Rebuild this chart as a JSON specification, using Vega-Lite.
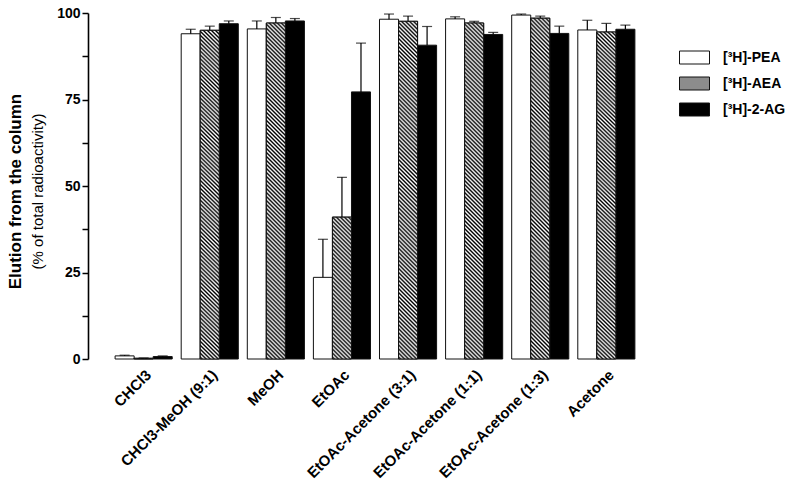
{
  "$schema": "https://vega.github.io/schema/vega-lite/v6.json",
  "width": 574,
  "height": 346,
  "autosize": {"type": "none"},
  "padding": {"left": 88, "top": 13, "right": 138, "bottom": 134},
  "background": "white",
  "config": {
    "view": {"stroke": null},
    "font": "Liberation Sans",
    "axis": {"labelFont": "Liberation Sans", "titleFont": "Liberation Sans", "labelColor": "black", "titleColor": "black"},
    "legend": {"labelFont": "Liberation Sans"}
  },
  "data": {
    "values": [
      {"solvent": "CHCl3", "compound": "[³H]-PEA", "mean": 0.9, "upper": 1.1},
      {"solvent": "CHCl3", "compound": "[³H]-AEA", "mean": 0.2, "upper": 0.3},
      {"solvent": "CHCl3", "compound": "[³H]-2-AG", "mean": 0.7, "upper": 0.9},
      {"solvent": "CHCl3-MeOH (9:1)", "compound": "[³H]-PEA", "mean": 94.0, "upper": 95.3},
      {"solvent": "CHCl3-MeOH (9:1)", "compound": "[³H]-AEA", "mean": 95.0, "upper": 96.2},
      {"solvent": "CHCl3-MeOH (9:1)", "compound": "[³H]-2-AG", "mean": 96.9, "upper": 97.7},
      {"solvent": "MeOH", "compound": "[³H]-PEA", "mean": 95.4, "upper": 97.7},
      {"solvent": "MeOH", "compound": "[³H]-AEA", "mean": 97.1, "upper": 98.7},
      {"solvent": "MeOH", "compound": "[³H]-2-AG", "mean": 97.7, "upper": 98.4},
      {"solvent": "EtOAc", "compound": "[³H]-PEA", "mean": 23.6, "upper": 34.6},
      {"solvent": "EtOAc", "compound": "[³H]-AEA", "mean": 41.0, "upper": 52.5},
      {"solvent": "EtOAc", "compound": "[³H]-2-AG", "mean": 77.2, "upper": 91.3},
      {"solvent": "EtOAc-Acetone (3:1)", "compound": "[³H]-PEA", "mean": 98.2, "upper": 99.7},
      {"solvent": "EtOAc-Acetone (3:1)", "compound": "[³H]-AEA", "mean": 97.6, "upper": 99.1},
      {"solvent": "EtOAc-Acetone (3:1)", "compound": "[³H]-2-AG", "mean": 90.7, "upper": 96.1},
      {"solvent": "EtOAc-Acetone (1:1)", "compound": "[³H]-PEA", "mean": 98.3, "upper": 98.9},
      {"solvent": "EtOAc-Acetone (1:1)", "compound": "[³H]-AEA", "mean": 97.1, "upper": 97.6},
      {"solvent": "EtOAc-Acetone (1:1)", "compound": "[³H]-2-AG", "mean": 93.8, "upper": 94.4},
      {"solvent": "EtOAc-Acetone (1:3)", "compound": "[³H]-PEA", "mean": 99.4, "upper": 99.7},
      {"solvent": "EtOAc-Acetone (1:3)", "compound": "[³H]-AEA", "mean": 98.5, "upper": 99.1},
      {"solvent": "EtOAc-Acetone (1:3)", "compound": "[³H]-2-AG", "mean": 94.1, "upper": 96.2},
      {"solvent": "Acetone", "compound": "[³H]-PEA", "mean": 95.1, "upper": 97.9},
      {"solvent": "Acetone", "compound": "[³H]-AEA", "mean": 94.5, "upper": 97.0},
      {"solvent": "Acetone", "compound": "[³H]-2-AG", "mean": 95.3, "upper": 96.5}
    ]
  },
  "encoding": {
    "x": {
      "field": "solvent",
      "type": "nominal",
      "scale": {
        "domain": ["CHCl3", "CHCl3-MeOH (9:1)", "MeOH", "EtOAc", "EtOAc-Acetone (3:1)", "EtOAc-Acetone (1:1)", "EtOAc-Acetone (1:3)", "Acetone"],
        "paddingInner": 0.136,
        "paddingOuter": 0.41
      },
      "axis": {
        "title": null,
        "labelAngle": -45,
        "labelAlign": "right",
        "labelBaseline": "top",
        "labelPadding": 8,
        "labelFontSize": 15,
        "labelFontWeight": "bold",
        "labelLimit": 300,
        "ticks": false,
        "domain": false,
        "grid": false
      }
    },
    "xOffset": {
      "field": "compound",
      "type": "nominal",
      "scale": {"domain": ["[³H]-PEA", "[³H]-AEA", "[³H]-2-AG"], "paddingInner": 0, "paddingOuter": 0}
    }
  },
  "layer": [
    {
      "mark": {"type": "bar", "strokeWidth": 1},
      "encoding": {
        "y": {
          "field": "mean",
          "type": "quantitative",
          "scale": {"domain": [0, 100], "nice": false},
          "axis": {
            "values": [0, 12.5, 25, 37.5, 50, 62.5, 75, 87.5, 100],
            "labelExpr": "datum.value % 25 === 0 ? datum.label : ''",
            "grid": false,
            "domainColor": "black",
            "domainWidth": 1.6,
            "tickColor": "black",
            "tickWidth": 1.5,
            "tickSize": 6,
            "labelFontSize": 14,
            "labelFontWeight": "bold",
            "labelPadding": 2,
            "title": "(% of total radioactivity)",
            "titleFontSize": 15,
            "titleFontWeight": "normal",
            "titleAngle": -90,
            "titleX": -51,
            "titleY": 178,
            "titleAlign": "center",
            "titleBaseline": "middle"
          }
        },
        "stroke": {"value": "#111111"},
        "fill": {
          "field": "compound",
          "type": "nominal",
          "scale": {"domain": ["[³H]-PEA", "[³H]-AEA", "[³H]-2-AG"], "range": ["#ffffff", "#8c8c8c", "#000000"]},
          "legend": {
            "orient": "none",
            "legendX": 599,
            "legendY": 37,
            "title": null,
            "symbolType": "M-2.1429,-0.9286H2.1429V0.9286H-2.1429Z",
            "symbolSize": 196,
            "symbolStrokeColor": "#111111",
            "symbolStrokeWidth": 1,
            "symbolOpacity": 1,
            "labelFontSize": 14,
            "labelFontWeight": "bold",
            "labelColor": "black",
            "labelOffset": 21,
            "rowPadding": 7
          }
        }
      }
    },
    {
      "transform": [{"filter": "datum.compound === '[³H]-AEA'"}],
      "mark": {"type": "bar", "strokeWidth": 1, "stroke": "#111111"},
      "encoding": {
        "y": {
          "field": "mean",
          "type": "quantitative",
          "scale": {"domain": [0, 100], "nice": false},
          "axis": null
        },
        "fill": {
          "condition": {
            "test": "datum.solvent === 'EtOAc'",
            "value": {
              "gradient": "linear", "x1": 0, "y1": 1, "x2": 0.1481, "y2": -0.107,
              "stops": [
                {"offset": 0, "color": "#fff"}, {"offset": 0.0125, "color": "#000"}, {"offset": 0.025, "color": "#fff"}, {"offset": 0.0375, "color": "#000"},
                {"offset": 0.05, "color": "#fff"}, {"offset": 0.0625, "color": "#000"}, {"offset": 0.075, "color": "#fff"}, {"offset": 0.0875, "color": "#000"},
                {"offset": 0.1, "color": "#fff"}, {"offset": 0.1125, "color": "#000"}, {"offset": 0.125, "color": "#fff"}, {"offset": 0.1375, "color": "#000"},
                {"offset": 0.15, "color": "#fff"}, {"offset": 0.1625, "color": "#000"}, {"offset": 0.175, "color": "#fff"}, {"offset": 0.1875, "color": "#000"},
                {"offset": 0.2, "color": "#fff"}, {"offset": 0.2125, "color": "#000"}, {"offset": 0.225, "color": "#fff"}, {"offset": 0.2375, "color": "#000"},
                {"offset": 0.25, "color": "#fff"}, {"offset": 0.2625, "color": "#000"}, {"offset": 0.275, "color": "#fff"}, {"offset": 0.2875, "color": "#000"},
                {"offset": 0.3, "color": "#fff"}, {"offset": 0.3125, "color": "#000"}, {"offset": 0.325, "color": "#fff"}, {"offset": 0.3375, "color": "#000"},
                {"offset": 0.35, "color": "#fff"}, {"offset": 0.3625, "color": "#000"}, {"offset": 0.375, "color": "#fff"}, {"offset": 0.3875, "color": "#000"},
                {"offset": 0.4, "color": "#fff"}, {"offset": 0.4125, "color": "#000"}, {"offset": 0.425, "color": "#fff"}, {"offset": 0.4375, "color": "#000"},
                {"offset": 0.45, "color": "#fff"}, {"offset": 0.4625, "color": "#000"}, {"offset": 0.475, "color": "#fff"}, {"offset": 0.4875, "color": "#000"},
                {"offset": 0.5, "color": "#fff"}, {"offset": 0.5125, "color": "#000"}, {"offset": 0.525, "color": "#fff"}, {"offset": 0.5375, "color": "#000"},
                {"offset": 0.55, "color": "#fff"}, {"offset": 0.5625, "color": "#000"}, {"offset": 0.575, "color": "#fff"}, {"offset": 0.5875, "color": "#000"},
                {"offset": 0.6, "color": "#fff"}, {"offset": 0.6125, "color": "#000"}, {"offset": 0.625, "color": "#fff"}, {"offset": 0.6375, "color": "#000"},
                {"offset": 0.65, "color": "#fff"}, {"offset": 0.6625, "color": "#000"}, {"offset": 0.675, "color": "#fff"}, {"offset": 0.6875, "color": "#000"},
                {"offset": 0.7, "color": "#fff"}, {"offset": 0.7125, "color": "#000"}, {"offset": 0.725, "color": "#fff"}, {"offset": 0.7375, "color": "#000"},
                {"offset": 0.75, "color": "#fff"}, {"offset": 0.7625, "color": "#000"}, {"offset": 0.775, "color": "#fff"}, {"offset": 0.7875, "color": "#000"},
                {"offset": 0.8, "color": "#fff"}, {"offset": 0.8125, "color": "#000"}, {"offset": 0.825, "color": "#fff"}, {"offset": 0.8375, "color": "#000"},
                {"offset": 0.85, "color": "#fff"}, {"offset": 0.8625, "color": "#000"}, {"offset": 0.875, "color": "#fff"}, {"offset": 0.8875, "color": "#000"},
                {"offset": 0.9, "color": "#fff"}, {"offset": 0.9125, "color": "#000"}, {"offset": 0.925, "color": "#fff"}, {"offset": 0.9375, "color": "#000"},
                {"offset": 0.95, "color": "#fff"}, {"offset": 0.9625, "color": "#000"}, {"offset": 0.975, "color": "#fff"}, {"offset": 0.9875, "color": "#000"},
                {"offset": 1, "color": "#fff"}
              ]
            }
          },
          "value": {
            "gradient": "linear", "x1": 0, "y1": 1, "x2": 0.0675, "y2": -0.1902,
            "stops": [
              {"offset": 0, "color": "#fff"}, {"offset": 0.005, "color": "#000"}, {"offset": 0.01, "color": "#fff"}, {"offset": 0.015, "color": "#000"}, {"offset": 0.02, "color": "#fff"}, {"offset": 0.025, "color": "#000"}, {"offset": 0.03, "color": "#fff"}, {"offset": 0.035, "color": "#000"}, {"offset": 0.04, "color": "#fff"}, {"offset": 0.045, "color": "#000"},
              {"offset": 0.05, "color": "#fff"}, {"offset": 0.055, "color": "#000"}, {"offset": 0.06, "color": "#fff"}, {"offset": 0.065, "color": "#000"}, {"offset": 0.07, "color": "#fff"}, {"offset": 0.075, "color": "#000"}, {"offset": 0.08, "color": "#fff"}, {"offset": 0.085, "color": "#000"}, {"offset": 0.09, "color": "#fff"}, {"offset": 0.095, "color": "#000"},
              {"offset": 0.1, "color": "#fff"}, {"offset": 0.105, "color": "#000"}, {"offset": 0.11, "color": "#fff"}, {"offset": 0.115, "color": "#000"}, {"offset": 0.12, "color": "#fff"}, {"offset": 0.125, "color": "#000"}, {"offset": 0.13, "color": "#fff"}, {"offset": 0.135, "color": "#000"}, {"offset": 0.14, "color": "#fff"}, {"offset": 0.145, "color": "#000"},
              {"offset": 0.15, "color": "#fff"}, {"offset": 0.155, "color": "#000"}, {"offset": 0.16, "color": "#fff"}, {"offset": 0.165, "color": "#000"}, {"offset": 0.17, "color": "#fff"}, {"offset": 0.175, "color": "#000"}, {"offset": 0.18, "color": "#fff"}, {"offset": 0.185, "color": "#000"}, {"offset": 0.19, "color": "#fff"}, {"offset": 0.195, "color": "#000"},
              {"offset": 0.2, "color": "#fff"}, {"offset": 0.205, "color": "#000"}, {"offset": 0.21, "color": "#fff"}, {"offset": 0.215, "color": "#000"}, {"offset": 0.22, "color": "#fff"}, {"offset": 0.225, "color": "#000"}, {"offset": 0.23, "color": "#fff"}, {"offset": 0.235, "color": "#000"}, {"offset": 0.24, "color": "#fff"}, {"offset": 0.245, "color": "#000"},
              {"offset": 0.25, "color": "#fff"}, {"offset": 0.255, "color": "#000"}, {"offset": 0.26, "color": "#fff"}, {"offset": 0.265, "color": "#000"}, {"offset": 0.27, "color": "#fff"}, {"offset": 0.275, "color": "#000"}, {"offset": 0.28, "color": "#fff"}, {"offset": 0.285, "color": "#000"}, {"offset": 0.29, "color": "#fff"}, {"offset": 0.295, "color": "#000"},
              {"offset": 0.3, "color": "#fff"}, {"offset": 0.305, "color": "#000"}, {"offset": 0.31, "color": "#fff"}, {"offset": 0.315, "color": "#000"}, {"offset": 0.32, "color": "#fff"}, {"offset": 0.325, "color": "#000"}, {"offset": 0.33, "color": "#fff"}, {"offset": 0.335, "color": "#000"}, {"offset": 0.34, "color": "#fff"}, {"offset": 0.345, "color": "#000"},
              {"offset": 0.35, "color": "#fff"}, {"offset": 0.355, "color": "#000"}, {"offset": 0.36, "color": "#fff"}, {"offset": 0.365, "color": "#000"}, {"offset": 0.37, "color": "#fff"}, {"offset": 0.375, "color": "#000"}, {"offset": 0.38, "color": "#fff"}, {"offset": 0.385, "color": "#000"}, {"offset": 0.39, "color": "#fff"}, {"offset": 0.395, "color": "#000"},
              {"offset": 0.4, "color": "#fff"}, {"offset": 0.405, "color": "#000"}, {"offset": 0.41, "color": "#fff"}, {"offset": 0.415, "color": "#000"}, {"offset": 0.42, "color": "#fff"}, {"offset": 0.425, "color": "#000"}, {"offset": 0.43, "color": "#fff"}, {"offset": 0.435, "color": "#000"}, {"offset": 0.44, "color": "#fff"}, {"offset": 0.445, "color": "#000"},
              {"offset": 0.45, "color": "#fff"}, {"offset": 0.455, "color": "#000"}, {"offset": 0.46, "color": "#fff"}, {"offset": 0.465, "color": "#000"}, {"offset": 0.47, "color": "#fff"}, {"offset": 0.475, "color": "#000"}, {"offset": 0.48, "color": "#fff"}, {"offset": 0.485, "color": "#000"}, {"offset": 0.49, "color": "#fff"}, {"offset": 0.495, "color": "#000"},
              {"offset": 0.5, "color": "#fff"}, {"offset": 0.505, "color": "#000"}, {"offset": 0.51, "color": "#fff"}, {"offset": 0.515, "color": "#000"}, {"offset": 0.52, "color": "#fff"}, {"offset": 0.525, "color": "#000"}, {"offset": 0.53, "color": "#fff"}, {"offset": 0.535, "color": "#000"}, {"offset": 0.54, "color": "#fff"}, {"offset": 0.545, "color": "#000"},
              {"offset": 0.55, "color": "#fff"}, {"offset": 0.555, "color": "#000"}, {"offset": 0.56, "color": "#fff"}, {"offset": 0.565, "color": "#000"}, {"offset": 0.57, "color": "#fff"}, {"offset": 0.575, "color": "#000"}, {"offset": 0.58, "color": "#fff"}, {"offset": 0.585, "color": "#000"}, {"offset": 0.59, "color": "#fff"}, {"offset": 0.595, "color": "#000"},
              {"offset": 0.6, "color": "#fff"}, {"offset": 0.605, "color": "#000"}, {"offset": 0.61, "color": "#fff"}, {"offset": 0.615, "color": "#000"}, {"offset": 0.62, "color": "#fff"}, {"offset": 0.625, "color": "#000"}, {"offset": 0.63, "color": "#fff"}, {"offset": 0.635, "color": "#000"}, {"offset": 0.64, "color": "#fff"}, {"offset": 0.645, "color": "#000"},
              {"offset": 0.65, "color": "#fff"}, {"offset": 0.655, "color": "#000"}, {"offset": 0.66, "color": "#fff"}, {"offset": 0.665, "color": "#000"}, {"offset": 0.67, "color": "#fff"}, {"offset": 0.675, "color": "#000"}, {"offset": 0.68, "color": "#fff"}, {"offset": 0.685, "color": "#000"}, {"offset": 0.69, "color": "#fff"}, {"offset": 0.695, "color": "#000"},
              {"offset": 0.7, "color": "#fff"}, {"offset": 0.705, "color": "#000"}, {"offset": 0.71, "color": "#fff"}, {"offset": 0.715, "color": "#000"}, {"offset": 0.72, "color": "#fff"}, {"offset": 0.725, "color": "#000"}, {"offset": 0.73, "color": "#fff"}, {"offset": 0.735, "color": "#000"}, {"offset": 0.74, "color": "#fff"}, {"offset": 0.745, "color": "#000"},
              {"offset": 0.75, "color": "#fff"}, {"offset": 0.755, "color": "#000"}, {"offset": 0.76, "color": "#fff"}, {"offset": 0.765, "color": "#000"}, {"offset": 0.77, "color": "#fff"}, {"offset": 0.775, "color": "#000"}, {"offset": 0.78, "color": "#fff"}, {"offset": 0.785, "color": "#000"}, {"offset": 0.79, "color": "#fff"}, {"offset": 0.795, "color": "#000"},
              {"offset": 0.8, "color": "#fff"}, {"offset": 0.805, "color": "#000"}, {"offset": 0.81, "color": "#fff"}, {"offset": 0.815, "color": "#000"}, {"offset": 0.82, "color": "#fff"}, {"offset": 0.825, "color": "#000"}, {"offset": 0.83, "color": "#fff"}, {"offset": 0.835, "color": "#000"}, {"offset": 0.84, "color": "#fff"}, {"offset": 0.845, "color": "#000"},
              {"offset": 0.85, "color": "#fff"}, {"offset": 0.855, "color": "#000"}, {"offset": 0.86, "color": "#fff"}, {"offset": 0.865, "color": "#000"}, {"offset": 0.87, "color": "#fff"}, {"offset": 0.875, "color": "#000"}, {"offset": 0.88, "color": "#fff"}, {"offset": 0.885, "color": "#000"}, {"offset": 0.89, "color": "#fff"}, {"offset": 0.895, "color": "#000"},
              {"offset": 0.9, "color": "#fff"}
            ]
          }
        }
      }
    },
    {
      "mark": {"type": "rule", "color": "black", "strokeWidth": 1.2},
      "encoding": {
        "y": {
          "field": "mean",
          "type": "quantitative",
          "scale": {"domain": [0, 100], "nice": false},
          "axis": {
            "orient": "left",
            "labels": false,
            "ticks": false,
            "domain": false,
            "grid": false,
            "title": "Elution from the column",
            "titleFontSize": 17,
            "titleFontWeight": "bold",
            "titleAngle": -90,
            "titleX": -73,
            "titleY": 178,
            "titleAlign": "center",
            "titleBaseline": "middle"
          }
        },
        "y2": {"field": "upper"}
      }
    },
    {
      "mark": {"type": "tick", "color": "black", "thickness": 1.2, "size": 10},
      "encoding": {
        "y": {
          "field": "upper",
          "type": "quantitative",
          "scale": {"domain": [0, 100], "nice": false},
          "axis": null
        }
      }
    }
  ],
  "resolve": {"scale": {"y": "independent"}, "axis": {"y": "independent"}}
}
